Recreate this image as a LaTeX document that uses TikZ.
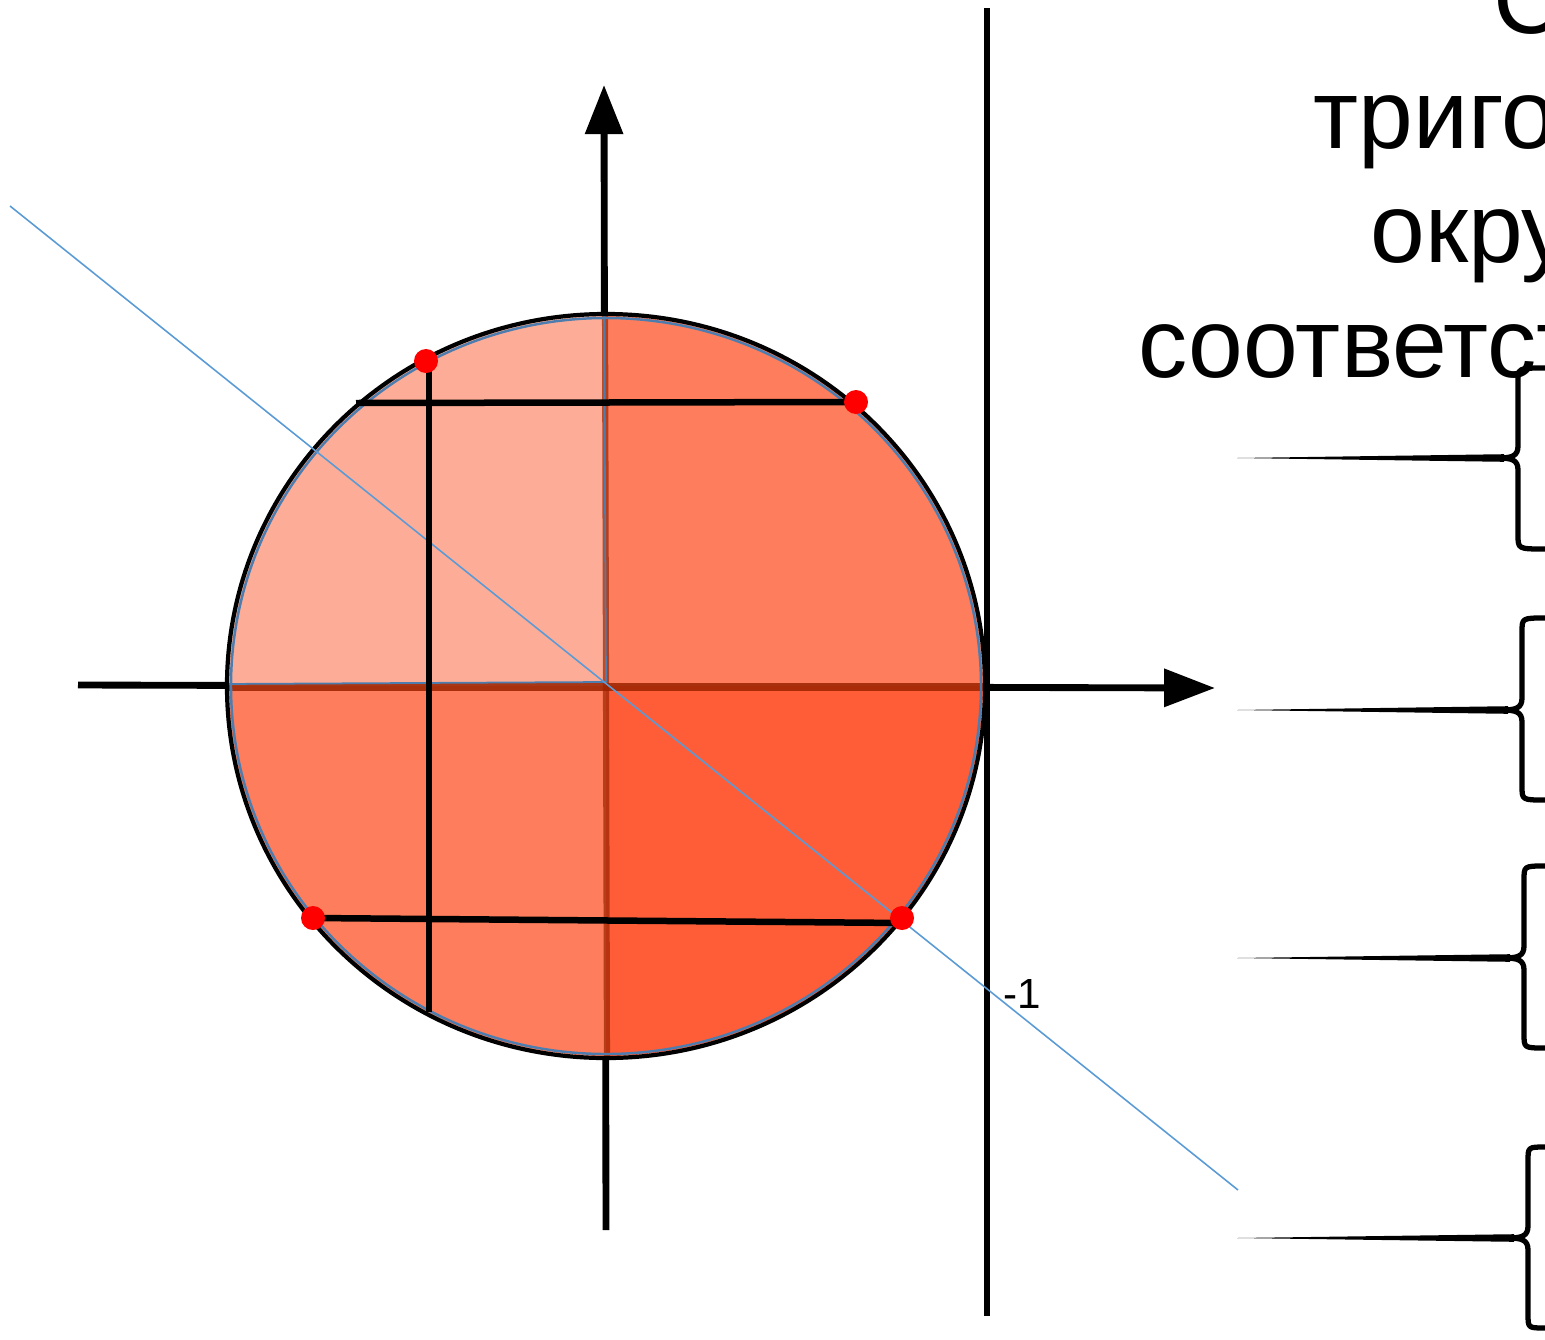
\documentclass[tikz,border=0pt]{standalone}
\usepackage{fontspec}
\setmainfont{Liberation Sans}
\usetikzlibrary{arrows.meta}
\definecolor{qlight}{HTML}{FDAD97}
\definecolor{qmid}{HTML}{FE7D5C}
\definecolor{qdark}{HTML}{FF5D38}
\definecolor{seam}{HTML}{9B2300}
\definecolor{rim}{HTML}{4C7DAE}
\definecolor{ray}{HTML}{5B9BD5}

\begin{document}
\begin{tikzpicture}[x=0.02cm,y=-0.02cm,
    axis/.style={line width=3.9pt},
    guide/.style={line width=3.7pt},
    pt/.style={fill=red},
    bigtext/.style={anchor=base west,inner sep=0pt,font=\fontsize{56}{64}\selectfont}]
\useasboundingbox (0,0) rectangle (1545,1339);
\coordinate (O) at (606,686);
\coordinate (A) at (426,361);
\coordinate (B) at (856,402);
\coordinate (C) at (313,918);
\coordinate (D) at (902,918);
% axes
\draw[axis,-{Triangle[length=29pt,width=21pt]}] (78,685) -- (1215,688);
\draw[axis,-{Triangle[length=28pt,width=21pt]}] (606,1230) -- (604,85);
\draw[axis] (987,8) -- (987,1316);
\node[anchor=base west,inner sep=0pt,font=\fontsize{24}{24}\selectfont] (m1) at (1003,1008) {-1};
% quarters of the circle
\begin{scope}
\clip (O) ellipse [x radius=377, y radius=370];
\fill[qlight] (200,300) rectangle (O);
\fill[qmid] (O) rectangle (1000,300);
\fill[qmid] (200,1070) rectangle (O);
\fill[qdark] (O) rectangle (1000,1070);
\draw[seam,line width=4pt,opacity=0.85] (220,687) -- (990,687);
\draw[seam,line width=3.5pt,opacity=0.7] (605,300) -- (607,1070);
\draw[rim,line width=1pt] (220,684) -- (606,682) (604,300) -- (606,682);
\end{scope}
\draw[rim,line width=1.4pt] (O) ellipse [x radius=375, y radius=368];
\draw[line width=2.4pt] (O) ellipse [x radius=379, y radius=372];
% ray through the centre
\draw[ray,line width=0.9pt] (10,206) -- (1238,1190);
% sine and cosine lines
\draw[guide] (429,366) -- (429,1012);
\draw[guide] (356,403) -- (B);
\draw[guide] (C) -- (905,923);
\foreach \p in {A,B,C,D}
  \fill[pt] (\p) circle (12);
% text
\node[bigtext] (t0) at (1493,33) {С};
\node[bigtext] (t1) at (1313,148) {тригонометрической};
\node[bigtext] (t2) at (1370,262) {окружности};
\node[bigtext] (t3) at (1138,377) {соответствие};
% braces
\foreach \t/\m/\b/\x in {368/458/549/1518,618/710/800/1522,866/958/1048/1524,1147/1238/1328/1528}{
  \fill (1237,\m) -- (\x-14,\m-3.8) -- (\x-14,\m+3.8) -- cycle;
  \draw[line width=3pt,line join=round]
    (1545,\t) .. controls (\x,\t) .. (\x,\t+14) -- (\x,\m-12)
    .. controls (\x,\m-2) and (\x-6,\m) .. (\x-20,\m)
    .. controls (\x-6,\m) and (\x,\m+2) .. (\x,\m+12)
    -- (\x,\b-14) .. controls (\x,\b) .. (1545,\b);
}
\end{tikzpicture}
\end{document}
